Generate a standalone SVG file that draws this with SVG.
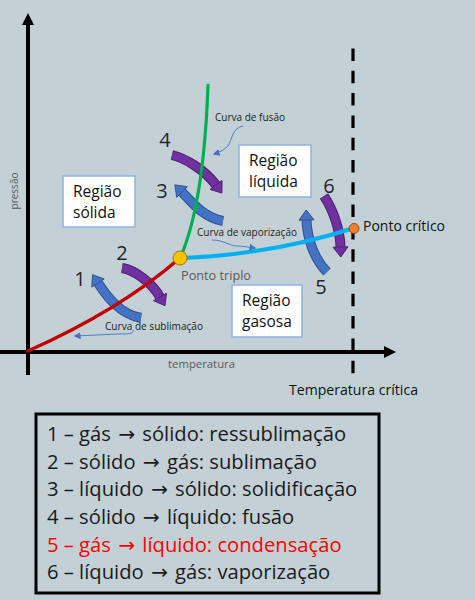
<svg xmlns="http://www.w3.org/2000/svg" width="475" height="600" viewBox="0 0 475 600">
<style>
text{font-family:"Open Sans","Liberation Sans",sans-serif}
.axis{stroke:#000;stroke-width:4;fill:none}
.ax-head{fill:#000}
.curve{fill:none;stroke-linecap:round}
.box{fill:#fff;stroke:#8db3e2;stroke-width:1.5}
.reg{font-size:15.5px;fill:#111}
.num{font-size:20px;fill:#262626}
.small{font-size:10px;fill:#1a1a1a}
.gray{fill:#595959}
.callout{fill:none;stroke:#4472c4;stroke-width:0.9}
.bo{fill:none;stroke:#2f528f;stroke-width:10}
.bi{fill:none;stroke:#4472c4;stroke-width:8}
.bh{fill:#4472c4;stroke:#2f528f;stroke-width:1;stroke-linejoin:round}
.po{fill:none;stroke:#4a1f6e;stroke-width:10}
.pi{fill:none;stroke:#7030a0;stroke-width:8}
.ph{fill:#7030a0;stroke:#4a1f6e;stroke-width:1;stroke-linejoin:round}
.leg{font-size:20.2px;fill:#1a1a1a}
.leg.red{fill:#ff0000}
.arr{font-family:"DejaVu Sans",sans-serif}
</style>
<defs>
<marker id="ca" viewBox="0 0 10 10" refX="8" refY="5" markerWidth="7" markerHeight="7" markerUnits="userSpaceOnUse" orient="auto">
<path d="M0,0 L10,5 L0,10 Z" fill="#4472c4"/>
</marker>
</defs>
<rect width="475" height="600" fill="#c3d1d6"/>

<g id="axes">
<line class="axis" x1="28" y1="24" x2="28" y2="375"/>
<path class="ax-head" d="M28,13 L34,25 L22,25 Z"/>
<line class="axis" x1="0" y1="352" x2="385" y2="352"/>
<path class="ax-head" d="M396,352 L384,346 L384,358 Z"/>
<line x1="353" y1="48.5" x2="353" y2="381" stroke="#000" stroke-width="3.2" stroke-dasharray="12.5 9.8"/>
<text class="small gray" x="168" y="368" font-size="11" textLength="67" lengthAdjust="spacingAndGlyphs">temperatura</text>
<text class="small gray" transform="translate(18,191) rotate(-90)" text-anchor="middle" font-size="11">pressão</text>
<text x="289" y="395" font-size="15" fill="#111" textLength="129" lengthAdjust="spacingAndGlyphs">Temperatura crítica</text>
</g>

<g id="arrows">
<g id="arrow1">
<path class="bo" d="M141,318 C118,314 104,292 98,283"/>
<path class="bi" d="M141,318 C118,314 104,292 98,283"/>
<path class="bh" d="M92.5,274.7 L104.2,278.9 L91.8,287.1 Z"/>
</g>
<g id="arrow2">
<path class="po" d="M122,268 C135,270 152,283 160,297"/>
<path class="pi" d="M122,268 C135,270 152,283 160,297"/>
<path class="ph" d="M165,305.7 L153.5,300.7 L166.5,293.3 Z"/>
</g>
<g id="arrow3">
<path class="bo" d="M223,221 C202,217 189,199 182,192"/>
<path class="bi" d="M223,221 C202,217 189,199 182,192"/>
<path class="bh" d="M174.9,184.9 L187.3,186.7 L176.7,197.3 Z"/>
</g>
<g id="arrow4">
<path class="po" d="M172,155 C185,158 205,170 216,185"/>
<path class="pi" d="M172,155 C185,158 205,170 216,185"/>
<path class="ph" d="M221.9,193.1 L210,189.4 L222,180.6 Z"/>
</g>
<g id="arrow5">
<path class="bo" d="M327,272 C313,258 307,236 306.5,220"/>
<path class="bi" d="M327,272 C313,258 307,236 306.5,220"/>
<path class="bh" d="M306.2,210 L314,219.8 L299,220.2 Z"/>
</g>
<g id="arrow6">
<path class="po" d="M324,196 C332,208 340,228 340.5,247"/>
<path class="pi" d="M324,196 C332,208 340,228 340.5,247"/>
<path class="ph" d="M340.8,257 L333,247.2 L348,246.8 Z"/>
</g>
</g>

<g id="connectors">
<path class="curve" stroke="#c00000" stroke-width="3.5" d="M28,351 Q120,310 180,258"/>
<path class="curve" stroke="#00b050" stroke-width="3.2" d="M180,258 C195,225 205,170 208,85"/>
<path class="curve" stroke="#00b0f0" stroke-width="4" d="M180,258 Q270,255 354,228"/>
<path class="callout" marker-end="url(#ca)" d="M243,126 C232,128 232,140 228,146 Q224,151 214,154"/>
<path class="callout" marker-end="url(#ca)" d="M212,240 C225,240 230,247 240,246 L255,248"/>
<path class="callout" marker-end="url(#ca)" d="M133,330 C134,334 128,334 118,334 L75,336"/>
</g>

<g id="triple-point">
<circle cx="180" cy="258" r="7" fill="#ffc000" stroke="#a07800" stroke-width="1"/>
<text x="181" y="280" font-size="13.5" fill="#595959" textLength="70" lengthAdjust="spacingAndGlyphs">Ponto triplo</text>
</g>
<g id="critical-point">
<circle cx="354" cy="228.5" r="5" fill="#f08030" stroke="#a04810" stroke-width="1"/>
<text x="363" y="231" font-size="14" fill="#111" textLength="82" lengthAdjust="spacingAndGlyphs">Ponto crítico</text>
</g>

<g id="label-fusao"><text class="small" x="215" y="121" textLength="70" lengthAdjust="spacingAndGlyphs">Curva de fusão</text></g>
<g id="label-vaporizacao"><text class="small" x="197" y="236" textLength="100" lengthAdjust="spacingAndGlyphs">Curva de vaporização</text></g>
<g id="label-sublimacao"><text class="small" x="105" y="330" textLength="98" lengthAdjust="spacingAndGlyphs">Curva de sublimação</text></g>

<g id="regiao-solida">
<rect class="box" x="63" y="176" width="72" height="51"/>
<text class="reg" x="73" y="197">Região</text>
<text class="reg" x="73" y="218">sólida</text>
</g>
<g id="regiao-liquida">
<rect class="box" x="239" y="145" width="72" height="52"/>
<text class="reg" x="249" y="166">Região</text>
<text class="reg" x="249" y="187">líquida</text>
</g>
<g id="regiao-gasosa">
<rect class="box" x="232" y="285" width="70" height="52"/>
<text class="reg" x="242" y="306">Região</text>
<text class="reg" x="242" y="327">gasosa</text>
</g>

<g id="numbers">
<text class="num" x="80" y="286" text-anchor="middle">1</text>
<text class="num" x="122" y="260" text-anchor="middle">2</text>
<text class="num" x="162" y="198" text-anchor="middle">3</text>
<text class="num" x="165" y="147" text-anchor="middle">4</text>
<text class="num" x="321" y="294" text-anchor="middle">5</text>
<text class="num" x="329" y="193" text-anchor="middle">6</text>
</g>

<g id="legend">
<rect x="36" y="414" width="343" height="179" fill="#c3d1d6" stroke="#000" stroke-width="3"/>
<text class="leg" x="47" y="441">1 – gás <tspan class="arr" dx="2">→</tspan><tspan dx="2"> sólido: ressublimação</tspan></text>
<text class="leg" x="47" y="468.5">2 – sólido <tspan class="arr" dx="2">→</tspan><tspan dx="2"> gás: sublimação</tspan></text>
<text class="leg" x="47" y="496">3 – líquido <tspan class="arr" dx="2">→</tspan><tspan dx="2"> sólido: solidificação</tspan></text>
<text class="leg" x="47" y="524">4 – sólido <tspan class="arr" dx="2">→</tspan><tspan dx="2"> líquido: fusão</tspan></text>
<text class="leg red" x="47" y="551.5">5 – gás <tspan class="arr" dx="2">→</tspan><tspan dx="2"> líquido: condensação</tspan></text>
<text class="leg" x="47" y="579">6 – líquido <tspan class="arr" dx="2">→</tspan><tspan dx="2"> gás: vaporização</tspan></text>
</g>
</svg>
